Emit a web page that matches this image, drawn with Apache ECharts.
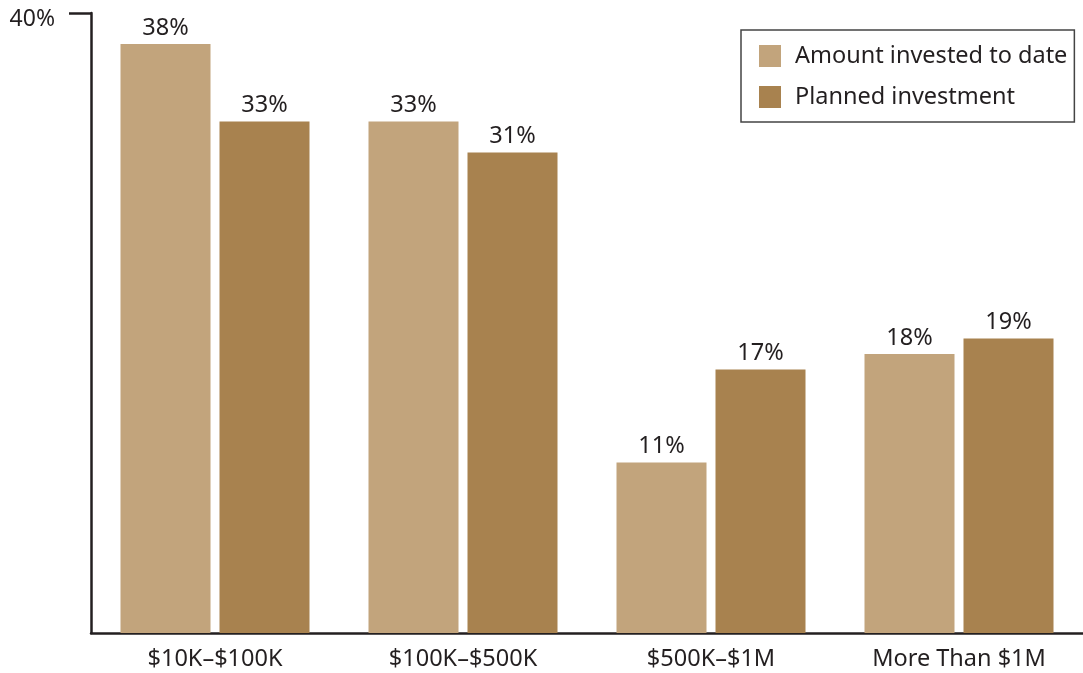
<!DOCTYPE html>
<html><head><meta charset="utf-8">
<script src="https://cdn.jsdelivr.net/npm/echarts@6/dist/echarts.min.js"></script>
<style>html,body{margin:0;padding:0;background:#fff}#c{width:1083px;height:673px}</style>
</head><body><div id="c"></div>
<script>
var categories = ['$10K\u2013$100K', '$100K\u2013$500K', '$500K\u2013$1M', 'More Than $1M'];
var investedToDate = [38, 33, 11, 18];
var plannedInvestment = [33, 31, 17, 19];
var seriesNames = ['Amount invested to date', 'Planned investment'];
var yTickValues = [40];

var FONT = '"Noto Sans", "Open Sans", sans-serif';
var TXT = '#231f20';
var chart = echarts.init(document.getElementById('c'), null, {renderer: 'canvas'});
chart.setOption({
  animation: false,
  color: ['#c2a47c', '#a8824f'],
  grid: {left: 91, right: 0, top: 13, bottom: 40, containLabel: false},
  legend: {
    orient: 'vertical', left: 741, top: 30,
    padding: [14, 7, 13, 18],
    itemWidth: 22, itemHeight: 22, itemGap: 17,
    borderColor: '#444', borderWidth: 1.5,
    icon: 'rect',
    textStyle: {fontFamily: FONT, fontSize: 23.5, color: TXT, padding: [0, 0, 0, 9]},
    data: seriesNames
  },
  xAxis: {
    type: 'category', data: categories,
    axisLine: {lineStyle: {color: TXT, width: 2.5}},
    axisTick: {show: false},
    axisLabel: {fontFamily: FONT, fontSize: 23.5, color: TXT, margin: 14}
  },
  yAxis: {
    type: 'value', min: 0, max: 40, interval: 40,
    splitLine: {show: false},
    axisLine: {show: true, lineStyle: {color: TXT, width: 2.5}},
    axisTick: {show: true, length: 22, customValues: yTickValues, lineStyle: {color: TXT, width: 2.5}},
    axisLabel: {customValues: yTickValues, fontFamily: FONT, fontSize: 23, color: TXT, margin: 36,
      verticalAlign: 'top', lineHeight: 12,
      formatter: function (v) { return v + '%'; }}
  },
  series: [
    {name: seriesNames[0], type: 'bar', data: investedToDate, barWidth: 90, barGap: '10%',
      label: {show: true, position: 'top', distance: 4, fontFamily: FONT, fontSize: 23.5, color: TXT, formatter: '{c}%'}},
    {name: seriesNames[1], type: 'bar', data: plannedInvestment, barWidth: 90, barGap: '10%',
      label: {show: true, position: 'top', distance: 4, fontFamily: FONT, fontSize: 23.5, color: TXT, formatter: '{c}%'}}
  ]
});
</script></body></html>
